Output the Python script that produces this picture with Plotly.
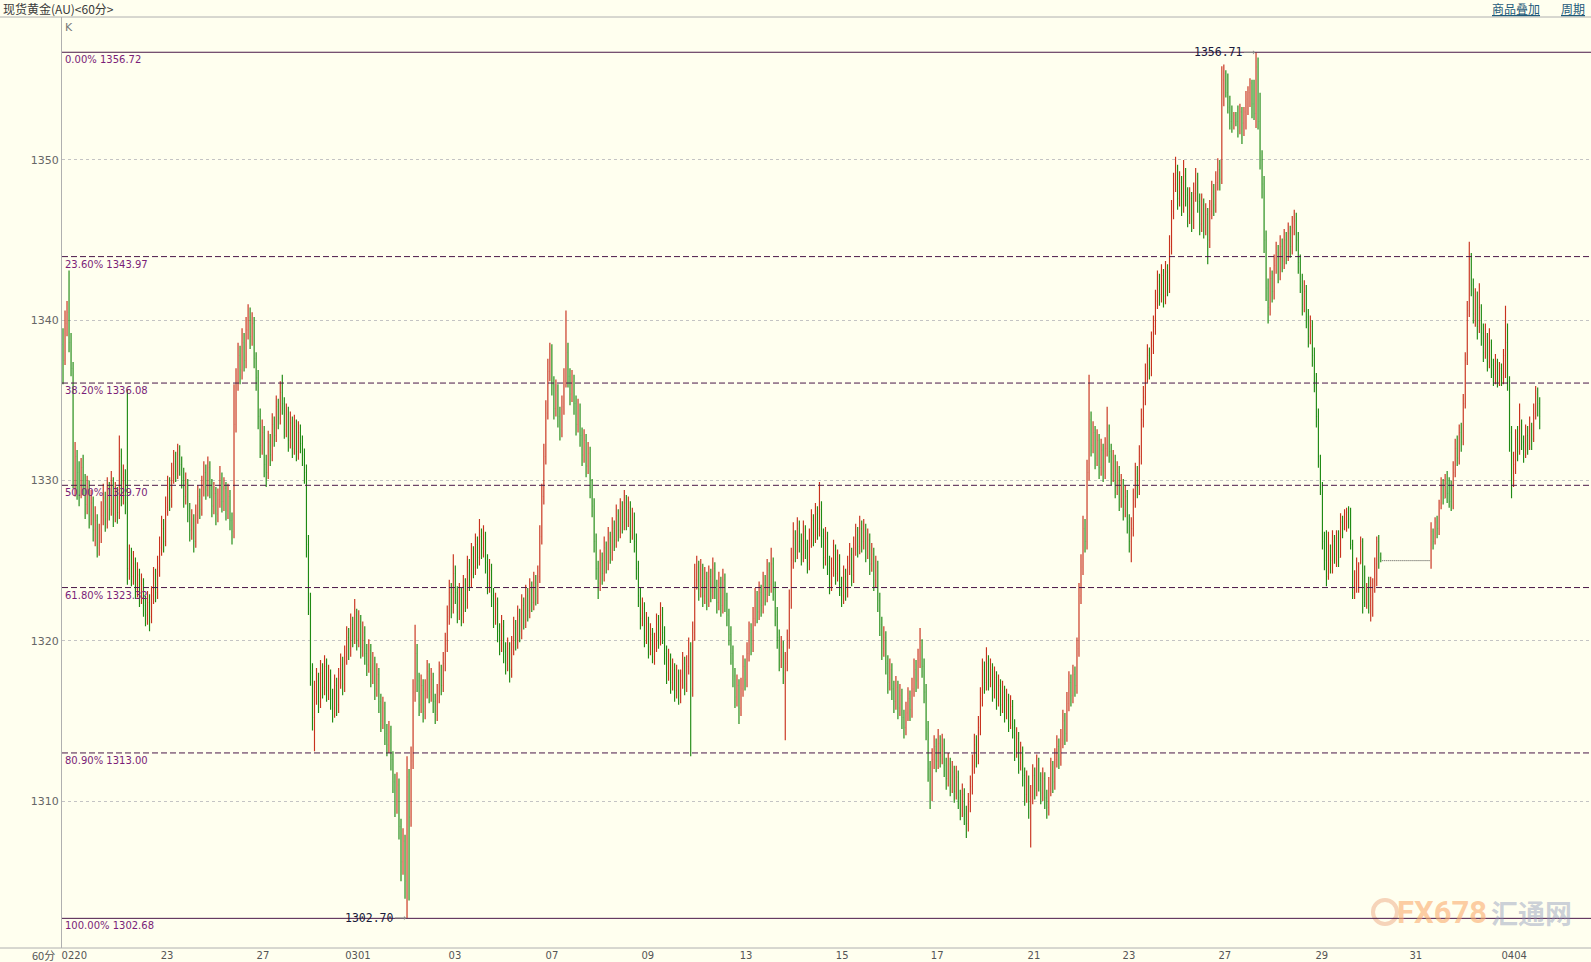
import plotly.graph_objects as go

# ---------------- data (hourly spot gold) ----------------
first_open = 1338.5

closes = [
    1337.5, 1339.8, 1340.5, 1338.6, 1337.0, 1330.0, 1331.5, 1330.5, 1329.2, 1330.8,  # 0
    1330.0, 1328.5, 1329.6, 1327.8, 1328.6, 1326.9, 1327.5, 1325.8, 1326.6, 1327.8,  # 10
    1328.9, 1327.6, 1329.4, 1328.2, 1329.8, 1327.9, 1329.1, 1328.0, 1331.5, 1329.0,  # 20
    1330.2, 1328.6, 1324.5, 1325.3, 1324.0, 1324.8, 1323.2, 1324.1, 1322.8, 1323.5,  # 30
    1322.2, 1321.6, 1322.4, 1321.5, 1322.8, 1323.9, 1323.0, 1324.6, 1325.8, 1327.0,  # 40
    1326.2, 1328.3, 1329.5, 1328.8, 1330.4, 1331.2, 1330.6, 1331.6, 1331.0, 1330.2,  # 50
    1329.0, 1329.8, 1328.1, 1326.9, 1327.6, 1326.2, 1327.8, 1329.0, 1328.2, 1329.6,  # 60
    1330.5, 1329.4, 1330.8, 1329.6, 1328.4, 1329.2, 1327.9, 1328.8, 1330.1, 1328.7,  # 70
    1329.5, 1328.1, 1329.0, 1327.5, 1326.8, 1333.5, 1336.2, 1337.8, 1336.9, 1338.6,  # 80
    1337.5, 1339.4, 1340.2, 1339.0, 1339.8, 1337.6, 1336.4, 1334.0, 1332.2, 1333.0,  # 90
    1331.0, 1330.5, 1332.4, 1331.6, 1333.5, 1332.8, 1334.6, 1333.9, 1335.5, 1334.8,  # 100
    1333.2, 1334.1, 1332.5, 1333.6, 1332.0, 1333.4, 1331.8, 1333.0, 1332.3, 1331.6,  # 110
    1330.5, 1326.0, 1322.5, 1318.0, 1315.2, 1316.8, 1317.5, 1316.2, 1318.0, 1317.1,  # 120
    1318.4, 1316.9, 1317.8, 1316.4, 1315.8, 1317.2, 1316.0, 1317.6, 1318.5, 1317.3,  # 130
    1319.0, 1320.2, 1319.5, 1321.0, 1320.3, 1321.6, 1320.1, 1321.2, 1319.6, 1320.5,  # 140
    1319.2, 1318.5, 1319.4, 1317.8, 1318.6, 1317.0, 1317.9, 1316.2, 1315.0, 1315.8,  # 150
    1314.2, 1313.5, 1314.3, 1312.6, 1311.2, 1309.8, 1311.0, 1308.4, 1306.2, 1307.5,  # 160
    1305.0, 1311.5, 1309.0, 1312.5, 1316.8, 1319.2, 1317.5, 1316.0, 1317.2, 1315.6,  # 170
    1316.9, 1318.1, 1316.8, 1317.6, 1316.2, 1315.4, 1316.6, 1318.0, 1317.2, 1318.6,  # 180
    1319.8, 1321.5, 1323.0, 1322.1, 1324.2, 1323.0, 1321.8, 1322.9, 1321.6, 1323.4,  # 190
    1322.5, 1324.6, 1323.8, 1325.4, 1324.6, 1326.0, 1325.2, 1326.5, 1325.8, 1326.4,  # 200
    1324.9, 1323.6, 1324.4, 1322.8, 1321.5, 1322.3, 1320.6, 1319.8, 1320.9, 1319.3,  # 210
    1318.6, 1319.5, 1318.2, 1319.6, 1320.8, 1320.0, 1321.5, 1320.6, 1322.2, 1321.3,  # 220
    1322.8, 1321.9, 1323.2, 1322.4, 1323.6, 1322.8, 1324.0, 1326.5, 1329.0, 1331.5,  # 230
    1334.2, 1336.8, 1338.2, 1336.0, 1334.5, 1335.6, 1334.0, 1333.2, 1334.6, 1336.2,  # 240
    1338.0, 1336.5, 1335.4, 1336.2, 1334.8, 1333.5, 1334.4, 1332.8, 1331.6, 1332.5,  # 250
    1330.9, 1331.7, 1329.6, 1328.4, 1326.2, 1324.5, 1323.6, 1325.0, 1324.2, 1325.8,  # 260
    1324.9, 1326.4, 1325.5, 1327.0, 1326.3, 1327.8, 1326.9, 1328.2, 1327.4, 1328.6,  # 270
    1327.6, 1328.3, 1326.8, 1327.6, 1326.2, 1324.5, 1322.8, 1321.4, 1322.0, 1320.3,  # 280
    1321.1, 1319.6, 1320.4, 1319.0, 1319.8, 1321.0, 1320.2, 1321.6, 1320.5, 1319.2,  # 290
    1318.0, 1318.8, 1317.4, 1318.2, 1316.9, 1317.8, 1316.6, 1317.5, 1318.6, 1317.3,  # 300
    1318.4, 1319.5, 1317.0, 1320.5, 1323.8, 1324.6, 1323.2, 1324.4, 1322.8, 1323.9,  # 310
    1322.6, 1324.0, 1323.1, 1324.5, 1323.3, 1322.4, 1323.6, 1322.2, 1323.8, 1322.5,  # 320
    1321.6, 1320.4, 1319.2, 1317.8, 1316.5, 1317.2, 1315.8, 1317.0, 1318.4, 1317.6,  # 330
    1319.2, 1320.5, 1319.8, 1321.4, 1322.6, 1321.8, 1323.0, 1322.2, 1323.6, 1322.9,  # 340
    1324.4, 1323.5, 1324.8, 1323.2, 1321.6, 1320.2, 1318.8, 1319.6, 1318.0, 1318.6,  # 350
    1320.0, 1322.5, 1325.0, 1326.4, 1325.6, 1327.0, 1326.2, 1325.4, 1326.8, 1325.8,  # 360
    1324.9, 1326.3, 1327.5, 1326.6, 1327.9, 1327.0, 1328.2, 1326.5, 1325.2, 1326.4,  # 370
    1324.8, 1323.6, 1324.5, 1325.6, 1324.2, 1325.0, 1323.5, 1322.8, 1324.0, 1323.2,  # 380
    1324.6, 1325.4, 1324.1, 1325.8, 1326.6, 1325.9, 1327.0, 1326.2, 1326.9, 1325.6,  # 390
    1326.3, 1324.8, 1325.4, 1323.8, 1324.6, 1322.5, 1321.0, 1319.5, 1320.2, 1318.6,  # 400
    1317.4, 1318.2, 1317.0, 1316.2, 1317.1, 1315.8, 1316.6, 1315.2, 1314.6, 1315.5,  # 410
    1316.4, 1315.7, 1317.0, 1318.2, 1317.5, 1318.8, 1319.6, 1318.4, 1316.8, 1314.5,  # 420
    1312.0, 1310.5, 1312.6, 1313.4, 1312.5, 1313.6, 1312.8, 1313.5, 1312.2, 1311.4,  # 430
    1312.3, 1311.0, 1311.8, 1310.6, 1311.5, 1310.2, 1309.5, 1310.4, 1309.2, 1308.6,  # 440
    1309.8, 1310.9, 1312.2, 1313.5, 1312.8, 1314.6, 1316.4, 1318.2, 1317.4, 1318.6,  # 450
    1317.6, 1318.2, 1316.9, 1317.7, 1316.4, 1317.2, 1316.0, 1316.8, 1315.6, 1316.3,  # 460
    1315.0, 1315.9, 1314.6, 1313.2, 1313.9, 1312.4, 1313.0, 1311.6, 1310.4, 1311.2,  # 470
    1309.6, 1310.3, 1311.6, 1310.8, 1312.2, 1311.3, 1310.5, 1311.4, 1310.2, 1309.6,  # 480
    1310.8, 1312.0, 1311.2, 1312.6, 1313.4, 1312.7, 1313.8, 1315.0, 1314.2, 1316.1,  # 490
    1317.4, 1316.6, 1317.9, 1317.2, 1319.5, 1322.8, 1324.6, 1327.0, 1326.2, 1330.5,  # 500
    1333.8, 1332.2, 1333.0, 1331.4, 1332.5, 1330.8, 1331.9, 1330.6, 1332.0, 1333.1,  # 510
    1331.8, 1330.4, 1331.2, 1329.6, 1330.5, 1328.8, 1329.7, 1328.2, 1329.0, 1327.4,  # 520
    1326.2, 1327.0, 1328.8, 1330.4, 1329.6, 1331.5, 1333.8, 1335.2, 1336.6, 1337.8,  # 530
    1337.0, 1338.4, 1339.6, 1341.2, 1342.4, 1341.6, 1342.8, 1341.5, 1343.0, 1342.2,  # 540
    1344.6, 1346.8, 1348.5, 1349.2, 1347.6, 1348.6, 1347.2, 1349.0, 1347.8, 1346.5,  # 550
    1347.6, 1346.2, 1347.9, 1348.8, 1347.4, 1346.0, 1347.2, 1345.8, 1346.6, 1345.0,  # 560
    1346.8, 1348.0, 1347.2, 1348.6, 1349.4, 1348.8, 1355.0, 1355.4, 1354.2, 1353.3,  # 570
    1352.4, 1352.0, 1352.8, 1352.4, 1351.8, 1353.0, 1352.3, 1353.0, 1353.8, 1354.2,  # 580
    1354.8, 1353.5, 1352.9, 1355.8, 1352.4, 1350.0, 1348.5, 1345.0, 1342.0, 1340.8,  # 590
    1342.6, 1341.8, 1343.4, 1344.2, 1343.0, 1344.6, 1343.7, 1345.0, 1344.2, 1345.4,  # 600
    1344.6, 1345.8, 1346.2, 1345.0, 1343.6, 1342.4, 1341.0, 1341.8, 1340.2, 1339.0,  # 610
    1339.6, 1337.8, 1336.2, 1334.0, 1331.5, 1329.6, 1326.2, 1325.0, 1324.0, 1325.6,  # 620
    1325.0, 1326.2, 1325.4, 1326.4, 1325.2, 1327.4, 1327.0, 1327.9, 1328.0, 1327.6,  # 630
    1326.0, 1323.0, 1323.6, 1324.6, 1324.8, 1326.2, 1322.4, 1322.3, 1322.9, 1322.2,  # 640
    1322.8, 1323.4, 1324.8, 1326.2, 1325.2, 1325.0, 1325.0, 1325.0, 1325.0, 1325.0,  # 650
    1325.0, 1325.0, 1325.0, 1325.0, 1325.0, 1325.0, 1325.0, 1325.0, 1325.0, 1325.0,  # 660
    1325.0, 1325.0, 1325.0, 1325.0, 1325.0, 1325.0, 1325.0, 1325.0, 1325.0, 1325.0,  # 670
    1326.8, 1326.2, 1327.4, 1327.0, 1328.6, 1329.8, 1328.9, 1329.8, 1329.2, 1328.7,  # 680
    1328.4, 1330.5, 1332.0, 1331.4, 1333.0, 1332.4, 1334.8, 1337.5, 1340.6, 1343.8,  # 690
    1342.2, 1340.4, 1341.5, 1339.6, 1340.8, 1339.2, 1338.0, 1339.0, 1337.4, 1338.6,  # 700
    1337.2, 1336.6, 1337.4, 1336.2, 1337.0, 1336.4, 1337.8, 1338.6, 1336.2, 1333.0,  # 710
    1329.8, 1331.0, 1332.6, 1331.8, 1333.4, 1332.4, 1331.6, 1332.8, 1332.2, 1333.2,  # 720
    1332.6, 1334.2, 1335.4, 1334.8, 1334.0,                                          # 730
]

highs = [
    1339.5, 1340.6, 1341.2, 1343.1, 1339.2, 1337.4, 1332.4, 1331.9, 1331.2, 1331.4,  # 0
    1331.6, 1330.4, 1330.3, 1330.0, 1329.4, 1329.0, 1328.4, 1327.9, 1327.3, 1328.7,  # 10
    1329.8, 1329.3, 1330.2, 1329.9, 1330.6, 1330.2, 1329.9, 1329.6, 1332.8, 1332.0,  # 20
    1331.0, 1330.7, 1335.7, 1326.0, 1325.8, 1325.6, 1325.2, 1324.9, 1324.5, 1324.2,  # 30
    1323.9, 1322.8, 1323.1, 1322.9, 1323.4, 1324.6, 1324.5, 1325.3, 1326.5, 1327.8,  # 40
    1327.6, 1329.0, 1330.3, 1330.2, 1331.1, 1331.9, 1331.8, 1332.3, 1332.2, 1331.5,  # 50
    1330.8, 1330.5, 1330.1, 1328.6, 1328.2, 1327.9, 1328.5, 1329.7, 1329.5, 1330.3,  # 60
    1331.2, 1331.0, 1331.5, 1331.2, 1330.1, 1329.9, 1329.6, 1329.5, 1330.9, 1330.5,  # 70
    1330.2, 1329.9, 1329.8, 1329.4, 1328.0, 1336.0, 1337.0, 1338.6, 1338.4, 1339.5,  # 80
    1339.2, 1340.2, 1341.0, 1340.8, 1340.5, 1340.2, 1338.0, 1336.9, 1334.5, 1333.8,  # 90
    1333.4, 1331.6, 1333.1, 1332.9, 1334.2, 1334.0, 1335.3, 1335.1, 1336.2, 1336.6,  # 100
    1335.2, 1334.8, 1334.6, 1334.3, 1334.0, 1334.1, 1333.8, 1333.7, 1333.5, 1332.8,  # 110
    1332.0, 1331.0, 1326.6, 1323.0, 1318.6, 1317.5, 1318.3, 1318.0, 1318.8, 1318.6,  # 120
    1319.1, 1318.9, 1318.5, 1318.2, 1317.0, 1317.9, 1317.7, 1318.3, 1319.2, 1319.0,  # 130
    1319.7, 1320.9, 1320.8, 1321.7, 1321.5, 1322.6, 1322.0, 1321.9, 1321.6, 1321.2,  # 140
    1320.9, 1319.8, 1320.1, 1319.8, 1319.3, 1319.0, 1318.6, 1318.3, 1316.7, 1316.5,  # 150
    1316.2, 1314.8, 1315.0, 1314.7, 1313.1, 1311.7, 1311.8, 1311.4, 1308.9, 1308.3,  # 160
    1307.9, 1312.8, 1312.0, 1313.4, 1317.6, 1321.0, 1319.8, 1318.0, 1317.9, 1317.6,  # 170
    1317.6, 1318.8, 1318.6, 1318.3, 1318.0, 1316.7, 1317.3, 1318.7, 1318.5, 1319.3,  # 180
    1320.5, 1322.2, 1323.8, 1323.6, 1325.4, 1324.7, 1323.4, 1323.6, 1323.3, 1324.1,  # 190
    1323.9, 1325.3, 1325.1, 1326.1, 1325.9, 1326.7, 1326.5, 1327.6, 1327.0, 1327.2,  # 200
    1326.8, 1325.4, 1325.1, 1324.8, 1323.3, 1323.0, 1322.7, 1321.1, 1321.6, 1321.3,  # 210
    1319.9, 1320.2, 1319.9, 1320.3, 1321.5, 1321.3, 1322.2, 1322.0, 1322.9, 1322.7,  # 220
    1323.5, 1323.3, 1323.9, 1323.7, 1324.3, 1324.1, 1324.7, 1327.2, 1329.8, 1332.3,  # 230
    1335.0, 1337.6, 1338.6, 1338.5, 1336.5, 1336.3, 1336.0, 1334.6, 1335.3, 1337.0,  # 240
    1340.6, 1338.6, 1337.0, 1336.9, 1336.6, 1335.3, 1335.1, 1334.8, 1333.3, 1333.2,  # 250
    1332.9, 1332.4, 1332.1, 1330.1, 1328.9, 1326.7, 1325.0, 1325.7, 1325.5, 1326.5,  # 260
    1326.2, 1327.1, 1326.8, 1327.7, 1327.5, 1328.5, 1328.2, 1328.9, 1328.7, 1329.4,  # 270
    1329.1, 1329.0, 1328.7, 1328.3, 1328.0, 1326.7, 1325.0, 1323.3, 1322.7, 1322.4,  # 280
    1321.8, 1321.5, 1321.1, 1320.8, 1320.5, 1321.7, 1321.6, 1322.4, 1322.1, 1320.9,  # 290
    1319.7, 1319.5, 1319.2, 1318.9, 1318.6, 1318.5, 1318.2, 1318.2, 1319.3, 1319.0,  # 300
    1319.1, 1320.2, 1319.9, 1321.2, 1324.8, 1325.3, 1325.0, 1325.1, 1324.8, 1324.6,  # 310
    1324.3, 1324.7, 1324.5, 1325.2, 1324.9, 1323.8, 1324.3, 1324.0, 1324.5, 1324.2,  # 320
    1323.0, 1322.0, 1320.9, 1319.7, 1318.3, 1317.9, 1317.6, 1317.7, 1319.1, 1318.9,  # 330
    1319.9, 1321.2, 1321.1, 1322.1, 1323.3, 1323.1, 1323.7, 1323.5, 1324.3, 1324.1,  # 340
    1325.1, 1324.9, 1325.8, 1325.2, 1323.7, 1322.1, 1320.7, 1320.3, 1320.0, 1319.3,  # 350
    1320.7, 1323.2, 1325.8, 1327.4, 1326.9, 1327.7, 1327.5, 1326.7, 1327.5, 1327.2,  # 360
    1326.3, 1327.0, 1328.2, 1327.9, 1328.6, 1328.4, 1329.9, 1328.7, 1327.0, 1327.1,  # 370
    1326.8, 1325.3, 1325.2, 1326.3, 1326.0, 1325.7, 1325.4, 1324.0, 1324.7, 1324.5,  # 380
    1325.3, 1326.1, 1325.8, 1326.5, 1327.3, 1327.1, 1327.8, 1327.5, 1327.6, 1327.3,  # 390
    1327.0, 1326.7, 1326.1, 1325.8, 1325.3, 1325.0, 1323.0, 1321.5, 1320.9, 1320.6,  # 400
    1319.1, 1318.9, 1318.6, 1317.5, 1317.8, 1317.5, 1317.3, 1317.0, 1315.7, 1316.2,  # 410
    1317.1, 1316.9, 1317.7, 1318.9, 1318.8, 1319.5, 1320.8, 1320.1, 1318.9, 1317.3,  # 420
    1315.0, 1312.5, 1313.3, 1314.1, 1313.9, 1314.5, 1314.1, 1314.2, 1313.9, 1312.7,  # 430
    1313.0, 1312.7, 1312.5, 1312.2, 1312.2, 1311.9, 1310.7, 1311.1, 1310.8, 1309.7,  # 440
    1310.5, 1311.6, 1312.9, 1314.2, 1314.1, 1315.3, 1317.1, 1318.9, 1318.7, 1319.6,  # 450
    1319.1, 1318.9, 1318.6, 1318.4, 1318.1, 1317.9, 1317.6, 1317.5, 1317.2, 1317.0,  # 460
    1316.7, 1316.6, 1316.3, 1315.1, 1314.6, 1314.3, 1313.7, 1313.4, 1312.1, 1311.9,  # 470
    1311.6, 1311.0, 1312.3, 1312.1, 1312.9, 1312.7, 1311.8, 1312.1, 1311.8, 1310.7,  # 480
    1311.5, 1312.7, 1312.5, 1313.3, 1314.1, 1313.9, 1314.5, 1315.7, 1315.5, 1316.8,  # 490
    1318.1, 1317.9, 1318.5, 1318.4, 1320.2, 1323.6, 1325.4, 1327.8, 1327.6, 1331.3,  # 500
    1336.6, 1334.3, 1333.7, 1333.4, 1333.2, 1332.9, 1332.6, 1332.3, 1332.7, 1334.6,  # 510
    1333.5, 1332.3, 1331.9, 1331.6, 1331.2, 1330.9, 1330.4, 1330.1, 1329.7, 1329.4,  # 520
    1327.9, 1327.7, 1329.5, 1331.1, 1330.9, 1332.2, 1334.5, 1335.9, 1337.3, 1338.5,  # 530
    1338.3, 1339.3, 1340.3, 1341.9, 1343.1, 1342.9, 1343.5, 1343.2, 1343.7, 1343.5,  # 540
    1345.3, 1347.5, 1349.2, 1350.2, 1349.7, 1349.3, 1349.0, 1350.0, 1349.5, 1348.3,  # 550
    1348.3, 1348.0, 1348.6, 1349.5, 1349.2, 1347.9, 1347.9, 1347.6, 1347.3, 1347.0,  # 560
    1347.5, 1348.7, 1348.5, 1349.3, 1350.1, 1350.0, 1355.85, 1355.95, 1355.6, 1355.4,  # 570
    1354.0, 1353.4, 1353.0, 1353.0, 1353.4, 1353.5, 1353.3, 1353.3, 1354.3, 1354.6,  # 580
    1355.1, 1355.0, 1355.0, 1356.71, 1356.4, 1354.2, 1350.6, 1349.0, 1345.6, 1342.6,  # 590
    1343.3, 1343.1, 1344.1, 1344.9, 1344.7, 1345.3, 1345.1, 1345.7, 1345.5, 1346.1,  # 600
    1345.9, 1346.5, 1346.9, 1346.7, 1345.5, 1344.1, 1342.9, 1342.5, 1342.2, 1340.7,  # 610
    1340.3, 1340.0, 1338.3, 1336.7, 1334.5, 1331.6, 1329.9, 1326.8, 1326.9, 1326.8,  # 620
    1326.0, 1326.9, 1326.6, 1326.9, 1326.9, 1327.95, 1327.8, 1328.2, 1328.3, 1328.4,  # 630
    1328.3, 1326.3, 1324.4, 1325.2, 1324.9, 1326.5, 1326.4, 1324.7, 1323.6, 1324.0,  # 640
    1324.0, 1323.9, 1325.2, 1326.5, 1326.6, 1325.5, 1325.0, 1325.0, 1325.0, 1325.0,  # 650
    1325.0, 1325.0, 1325.0, 1325.0, 1325.0, 1325.0, 1325.0, 1325.0, 1325.0, 1325.0,  # 660
    1325.0, 1325.0, 1325.0, 1325.0, 1325.0, 1325.0, 1325.0, 1325.0, 1325.0, 1325.0,  # 670
    1327.4, 1327.0, 1327.7, 1327.8, 1328.8, 1330.2, 1330.1, 1330.4, 1330.6, 1330.2,  # 680
    1330.0, 1331.2, 1332.6, 1332.8, 1333.5, 1333.6, 1335.4, 1338.0, 1341.2, 1344.9,  # 690
    1344.2, 1342.6, 1342.0, 1341.8, 1342.3, 1341.0, 1339.8, 1339.8, 1339.2, 1339.5,  # 700
    1338.8, 1337.6, 1337.9, 1337.6, 1337.4, 1337.3, 1338.2, 1340.9, 1339.8, 1336.5,  # 710
    1333.4, 1331.8, 1333.2, 1333.4, 1334.8, 1333.8, 1332.8, 1333.5, 1333.4, 1334.0,  # 720
    1333.6, 1334.8, 1335.9, 1335.8, 1335.2,                                          # 730
]

lows = [
    1336.0, 1337.2, 1339.0, 1338.0, 1336.5, 1329.5, 1329.0, 1328.8, 1328.4, 1328.9,  # 0
    1329.1, 1327.6, 1327.9, 1327.0, 1327.2, 1326.2, 1325.9, 1325.2, 1325.3, 1326.1,  # 10
    1327.2, 1326.8, 1327.0, 1327.5, 1327.8, 1327.1, 1327.4, 1327.3, 1327.6, 1328.4,  # 20
    1328.5, 1327.9, 1323.5, 1323.8, 1323.4, 1323.5, 1322.6, 1322.7, 1322.1, 1322.3,  # 30
    1321.5, 1320.9, 1321.0, 1320.6, 1321.1, 1322.3, 1322.4, 1322.6, 1324.0, 1325.3,  # 40
    1325.5, 1325.9, 1327.8, 1328.1, 1328.3, 1329.8, 1329.9, 1330.1, 1330.3, 1329.5,  # 50
    1328.3, 1328.5, 1327.4, 1326.2, 1326.3, 1325.5, 1325.8, 1327.3, 1327.6, 1327.8,  # 60
    1329.0, 1328.8, 1329.0, 1328.9, 1327.7, 1327.9, 1327.2, 1327.4, 1328.3, 1328.0,  # 70
    1328.1, 1327.5, 1327.6, 1326.9, 1326.0, 1326.4, 1333.0, 1335.6, 1336.0, 1336.3,  # 80
    1336.8, 1337.0, 1338.8, 1338.2, 1338.4, 1337.0, 1335.6, 1333.2, 1331.4, 1331.6,  # 90
    1330.2, 1329.6, 1330.1, 1330.9, 1331.2, 1332.1, 1332.4, 1333.2, 1333.5, 1334.1,  # 100
    1332.6, 1332.7, 1331.8, 1332.0, 1331.4, 1331.6, 1331.2, 1331.3, 1331.7, 1330.9,  # 110
    1329.8, 1325.2, 1321.6, 1317.2, 1314.4, 1313.1, 1316.0, 1315.5, 1315.8, 1316.4,  # 120
    1316.6, 1316.2, 1316.3, 1315.7, 1314.9, 1315.2, 1315.3, 1315.5, 1317.0, 1316.6,  # 130
    1316.8, 1318.5, 1318.8, 1319.0, 1319.6, 1319.8, 1319.4, 1319.6, 1318.9, 1319.0,  # 140
    1318.5, 1317.8, 1318.0, 1317.1, 1317.3, 1316.3, 1316.5, 1315.5, 1314.3, 1314.5,  # 150
    1313.5, 1312.8, 1313.0, 1311.9, 1310.5, 1309.0, 1309.2, 1307.6, 1305.0, 1305.4,  # 160
    1303.9, 1302.7, 1303.8, 1308.4, 1312.0, 1316.2, 1316.8, 1315.3, 1315.5, 1314.9,  # 170
    1315.1, 1316.4, 1316.1, 1316.2, 1315.5, 1314.8, 1315.0, 1316.1, 1316.6, 1316.8,  # 180
    1318.1, 1319.3, 1321.0, 1321.4, 1321.7, 1322.3, 1321.1, 1321.3, 1320.9, 1321.1,  # 190
    1321.8, 1322.0, 1323.1, 1323.3, 1323.9, 1324.1, 1324.5, 1324.7, 1325.1, 1325.2,  # 200
    1324.2, 1322.9, 1323.0, 1322.1, 1320.8, 1321.0, 1319.9, 1319.1, 1319.3, 1318.6,  # 210
    1317.9, 1318.1, 1317.4, 1317.7, 1319.1, 1319.4, 1319.5, 1319.9, 1320.1, 1320.7,  # 220
    1320.8, 1321.2, 1321.4, 1321.8, 1321.9, 1322.2, 1322.3, 1323.6, 1326.0, 1328.5,  # 230
    1331.0, 1333.8, 1336.2, 1335.3, 1333.8, 1334.0, 1333.3, 1332.5, 1332.7, 1334.1,  # 240
    1335.8, 1335.8, 1334.7, 1334.9, 1334.1, 1332.8, 1333.0, 1332.1, 1330.9, 1331.1,  # 250
    1330.2, 1330.4, 1328.9, 1327.7, 1325.5, 1323.8, 1322.6, 1323.1, 1323.5, 1323.7,  # 260
    1324.2, 1324.4, 1324.8, 1325.0, 1325.6, 1325.8, 1326.2, 1326.4, 1326.7, 1326.9,  # 270
    1326.9, 1327.1, 1326.1, 1326.3, 1325.5, 1323.8, 1322.1, 1320.7, 1320.9, 1319.6,  # 280
    1319.8, 1318.9, 1319.1, 1318.6, 1318.5, 1319.3, 1319.5, 1319.7, 1319.8, 1318.5,  # 290
    1317.3, 1317.5, 1316.7, 1316.9, 1316.2, 1316.4, 1316.0, 1316.1, 1317.0, 1316.6,  # 300
    1316.8, 1317.9, 1312.8, 1316.5, 1320.0, 1323.2, 1322.5, 1322.7, 1322.1, 1322.3,  # 310
    1321.9, 1322.1, 1322.4, 1322.6, 1322.6, 1321.7, 1321.9, 1321.5, 1321.7, 1321.8,  # 320
    1320.9, 1319.7, 1318.5, 1317.1, 1315.8, 1315.9, 1314.8, 1315.3, 1316.5, 1316.9,  # 330
    1317.1, 1318.7, 1319.1, 1319.3, 1320.9, 1321.1, 1321.3, 1321.5, 1321.7, 1322.2,  # 340
    1322.4, 1322.8, 1323.0, 1322.5, 1320.9, 1319.5, 1318.1, 1318.3, 1317.3, 1313.8,  # 350
    1318.1, 1319.5, 1322.0, 1324.5, 1324.9, 1325.1, 1325.5, 1324.7, 1324.9, 1325.1,  # 360
    1324.2, 1324.4, 1325.8, 1325.9, 1326.1, 1326.3, 1326.5, 1325.8, 1324.5, 1324.7,  # 370
    1324.1, 1322.9, 1323.1, 1324.0, 1323.5, 1323.7, 1322.8, 1322.1, 1322.3, 1322.5,  # 380
    1322.7, 1324.1, 1323.4, 1323.6, 1325.3, 1325.2, 1325.4, 1325.5, 1325.7, 1324.9,  # 390
    1325.1, 1324.1, 1324.3, 1323.1, 1323.3, 1321.8, 1320.3, 1318.8, 1319.0, 1317.9,  # 400
    1316.7, 1316.9, 1316.3, 1315.5, 1315.7, 1315.1, 1315.3, 1314.5, 1313.9, 1314.1,  # 410
    1315.0, 1315.0, 1315.2, 1316.5, 1316.8, 1317.0, 1318.3, 1317.7, 1316.1, 1313.8,  # 420
    1311.2, 1309.5, 1310.0, 1312.0, 1311.8, 1312.0, 1312.1, 1312.3, 1311.5, 1310.7,  # 430
    1310.9, 1310.3, 1310.5, 1309.9, 1310.1, 1309.5, 1308.8, 1309.0, 1308.5, 1307.7,  # 440
    1308.1, 1309.3, 1310.4, 1311.7, 1312.1, 1312.3, 1314.1, 1315.9, 1316.7, 1316.9,  # 450
    1316.9, 1317.1, 1316.2, 1316.4, 1315.7, 1315.9, 1315.3, 1315.5, 1314.9, 1315.1,  # 460
    1314.3, 1314.5, 1313.9, 1312.5, 1312.7, 1311.7, 1311.9, 1310.9, 1309.7, 1309.9,  # 470
    1308.9, 1307.1, 1309.8, 1310.1, 1310.3, 1310.6, 1309.8, 1310.0, 1309.5, 1308.9,  # 480
    1309.1, 1310.3, 1310.5, 1310.7, 1312.1, 1312.0, 1312.2, 1313.3, 1313.5, 1313.7,  # 490
    1315.6, 1315.9, 1316.1, 1316.5, 1316.7, 1319.0, 1322.3, 1324.1, 1325.5, 1325.7,  # 500
    1330.0, 1331.5, 1331.7, 1330.7, 1330.9, 1330.1, 1330.3, 1329.9, 1330.1, 1331.5,  # 510
    1331.1, 1329.7, 1329.9, 1328.9, 1329.1, 1328.1, 1328.3, 1327.5, 1327.7, 1326.7,  # 520
    1325.5, 1324.9, 1326.5, 1328.3, 1328.9, 1329.1, 1331.0, 1333.3, 1334.7, 1336.1,  # 530
    1336.3, 1336.5, 1337.9, 1339.1, 1340.7, 1340.9, 1341.1, 1340.8, 1341.0, 1341.5,  # 540
    1341.7, 1344.1, 1346.3, 1348.0, 1346.9, 1347.1, 1346.5, 1346.7, 1347.1, 1345.8,  # 550
    1346.0, 1345.5, 1345.7, 1347.4, 1346.7, 1345.3, 1345.5, 1345.1, 1345.3, 1343.5,  # 560
    1344.5, 1346.3, 1346.5, 1346.7, 1348.1, 1348.1, 1348.5, 1353.35, 1353.9, 1352.9,  # 570
    1351.9, 1351.7, 1351.9, 1352.1, 1351.4, 1351.6, 1351.0, 1351.5, 1351.9, 1352.8,  # 580
    1353.3, 1352.6, 1352.5, 1352.0, 1351.9, 1349.4, 1347.6, 1344.2, 1341.2, 1339.8,  # 590
    1340.3, 1341.1, 1341.3, 1342.9, 1342.3, 1342.5, 1343.0, 1343.2, 1343.5, 1343.7,  # 600
    1343.9, 1344.1, 1345.3, 1344.3, 1342.9, 1341.7, 1340.3, 1340.5, 1339.5, 1338.3,  # 610
    1338.5, 1337.1, 1335.5, 1333.3, 1330.8, 1329.1, 1325.7, 1324.4, 1323.4, 1323.8,  # 620
    1324.2, 1324.2, 1324.8, 1324.6, 1324.6, 1325.2, 1326.4, 1326.9, 1326.8, 1327.0,  # 630
    1325.7, 1322.6, 1322.6, 1323.0, 1323.0, 1324.85, 1321.7, 1322.1, 1322.0, 1321.7,  # 640
    1321.2, 1321.5, 1323.0, 1323.4, 1324.5, 1324.9, 1325.0, 1325.0, 1325.0, 1325.0,  # 650
    1325.0, 1325.0, 1325.0, 1325.0, 1325.0, 1325.0, 1325.0, 1325.0, 1325.0, 1325.0,  # 660
    1325.0, 1325.0, 1325.0, 1325.0, 1325.0, 1325.0, 1325.0, 1325.0, 1325.0, 1325.0,  # 670
    1324.5, 1325.7, 1326.0, 1326.4, 1326.6, 1328.2, 1328.5, 1328.9, 1328.6, 1328.3,  # 680
    1328.1, 1328.2, 1330.2, 1330.9, 1331.0, 1331.8, 1332.2, 1334.5, 1337.2, 1340.2,  # 690
    1341.5, 1339.8, 1339.6, 1338.8, 1339.2, 1338.4, 1337.4, 1337.6, 1336.8, 1337.0,  # 700
    1336.4, 1335.9, 1336.0, 1335.8, 1335.9, 1335.9, 1336.0, 1336.4, 1335.6, 1331.8,  # 710
    1328.9, 1329.6, 1330.4, 1331.2, 1331.6, 1331.9, 1331.1, 1331.4, 1331.6, 1331.9,  # 720
    1331.9, 1332.4, 1333.8, 1334.0, 1333.2,                                          # 730
]

tick_pos = [5.6, 51.7, 99.4, 146.6, 194.8, 243.0, 290.7, 339.5, 387.3, 434.5,
            482.6, 529.8, 577.5, 625.7, 672.4, 721.3]
tick_text = ["0220", "23", "27", "0301", "03", "07", "09", "13", "15", "17",
             "21", "23", "27", "29", "31", "0404"]

price_ticks = [1310, 1320, 1330, 1340, 1350]

fib_pct = ["0.00%", "23.60%", "38.20%", "50.00%", "61.80%", "80.90%", "100.00%"]
fib_val = [1356.72, 1343.97, 1336.08, 1329.70, 1323.32, 1313.00, 1302.68]

hi_bar, hi_val = 593, 1356.71
lo_bar, lo_val = 171, 1302.70

# ---------------- build ----------------
assert len(closes) == len(highs) == len(lows), (len(closes), len(highs), len(lows))
n = len(closes)
opens = [first_open] + closes[:-1]
highs = [max(h, o, c) for h, o, c in zip(highs, opens, closes)]
lows = [min(l, o, c) for l, o, c in zip(lows, opens, closes)]
bar_idx = list(range(n))

# split: bars with range vs. flat (no-trade) bars which the terminal draws as dark dots
moving = [i for i in bar_idx if highs[i] != lows[i]]
flat = [i for i in bar_idx if highs[i] == lows[i]]

def pick(seq, ids):
    return [seq[i] for i in ids]

BG = "#FFFFEF"
UP = "#C8321E"
DN = "#1F8A14"
FLAT = "#2A2A2A"
FIB = "#4A1848"
AXIS = "#B0B0B0"

fig = go.Figure()
fig.add_trace(go.Ohlc(
    x=moving, open=pick(opens, moving), high=pick(highs, moving),
    low=pick(lows, moving), close=pick(closes, moving),
    increasing=dict(line=dict(color=UP, width=1.15)),
    decreasing=dict(line=dict(color=DN, width=1.15)),
    tickwidth=0.3, hoverinfo="skip",
))
fig.add_trace(go.Ohlc(
    x=flat, open=pick(opens, flat), high=pick(highs, flat),
    low=pick(lows, flat), close=pick(closes, flat),
    increasing=dict(line=dict(color=FLAT, width=1)),
    decreasing=dict(line=dict(color=FLAT, width=1)),
    tickwidth=0.22, hoverinfo="skip",
))

W, H = 1591, 962
ML, MR, MT, MB = 62, 0, 17, 14
PW, PH = W - ML - MR, H - MT - MB

def px_x(px):
    return (px - ML) / PW

def px_y(py):
    return (H - MB - py) / PH

shapes = []
for pct, val in zip(fib_pct, fib_val):
    solid = pct in ("0.00%", "100.00%")
    shapes.append(dict(type="line", xref="paper", yref="y", x0=0, x1=1, y0=val, y1=val,
                       line=dict(color=FIB, width=1, dash="solid" if solid else "6px,3px"),
                       layer="above"))
# header separator and bottom axis line across the whole width
shapes.append(dict(type="line", xref="paper", yref="paper", x0=px_x(0), x1=1, y0=1, y1=1,
                   line=dict(color=AXIS, width=1)))
shapes.append(dict(type="line", xref="paper", yref="paper", x0=px_x(0), x1=1, y0=0, y1=0,
                   line=dict(color=AXIS, width=1)))
# watermark logo ring
shapes.append(dict(type="circle", xref="paper", yref="paper",
                   x0=px_x(1373), x1=px_x(1397), y0=px_y(924), y1=px_y(900),
                   line=dict(color="rgba(236,160,120,0.45)", width=4), layer="below"))

ann = []
for pct, val in zip(fib_pct, fib_val):
    ann.append(dict(xref="paper", yref="y", x=0, y=val, xanchor="left", yanchor="top",
                    xshift=1, yshift=0, showarrow=False, text=f"{pct} {val:.2f}",
                    font=dict(family="DejaVu Sans", size=10, color="#7A1E78")))

mono = dict(family="DejaVu Sans Mono", size=11.5, color="#1A1A3A")
ann.append(dict(x=hi_bar, y=hi_val, xref="x", yref="y", text=f"{hi_val:.2f}", showarrow=True,
                ax=-38, ay=0, arrowhead=1, arrowsize=0.7, arrowwidth=1, arrowcolor="#8A8A8A",
                standoff=1, font=mono))
ann.append(dict(x=lo_bar, y=lo_val, xref="x", yref="y", text=f"{lo_val:.2f}", showarrow=True,
                ax=-38, ay=0, arrowhead=1, arrowsize=0.7, arrowwidth=1, arrowcolor="#8A8A8A",
                standoff=1, font=mono))

ann.append(dict(xref="paper", yref="paper", x=px_x(1), y=px_y(8), xanchor="left", yanchor="middle",
                showarrow=False, text="现货黄金(AU)&lt;60分&gt;",
                font=dict(family="Noto Sans CJK SC", size=12, color="#3A3A3A")))
ann.append(dict(xref="paper", yref="paper", x=px_x(1516), y=px_y(8), xanchor="center", yanchor="middle",
                showarrow=False, text="<u>商品叠加</u>",
                font=dict(family="Noto Sans CJK SC", size=12, color="#1E5A7A")))
ann.append(dict(xref="paper", yref="paper", x=px_x(1573), y=px_y(8), xanchor="center", yanchor="middle",
                showarrow=False, text="<u>周期</u>",
                font=dict(family="Noto Sans CJK SC", size=12, color="#1E5A7A")))
ann.append(dict(xref="paper", yref="paper", x=px_x(63), y=px_y(27), xanchor="left", yanchor="middle",
                showarrow=False, text="K", font=dict(family="DejaVu Sans", size=11, color="#777777")))
ann.append(dict(xref="paper", yref="paper", x=px_x(57), y=px_y(955), xanchor="right", yanchor="middle",
                showarrow=False, text="60分",
                font=dict(family="Noto Sans CJK SC", size=11, color="#555555")))
ann.append(dict(xref="paper", yref="paper", x=px_x(1442), y=px_y(912), xanchor="center", yanchor="middle",
                showarrow=False, text="<b>FX678</b>",
                font=dict(family="Roboto", size=31, color="rgba(250,172,110,0.6)")))
ann.append(dict(xref="paper", yref="paper", x=px_x(1531), y=px_y(912), xanchor="center", yanchor="middle",
                showarrow=False, text="<b>汇通网</b>",
                font=dict(family="Noto Sans CJK SC", size=27, color="rgba(140,150,185,0.45)")))

fig.update_layout(
    width=W, height=H,
    margin=dict(l=ML, r=MR, t=MT, b=MB),
    paper_bgcolor=BG, plot_bgcolor=BG,
    showlegend=False,
    shapes=shapes, annotations=ann,
    xaxis=dict(range=[-0.5, 759.5], rangeslider=dict(visible=False),
               tickmode="array", tickvals=tick_pos, ticktext=tick_text,
               showgrid=False, zeroline=False, showline=False, ticks="",
               tickfont=dict(family="DejaVu Sans", size=10, color="#555555"),
               fixedrange=True),
    yaxis=dict(range=[1300.83, 1358.92], tickmode="array", tickvals=price_ticks,
               showgrid=True, gridcolor="#C4C4C4", griddash="dot", gridwidth=1,
               zeroline=False, showline=True, linecolor=AXIS, linewidth=1, ticks="",
               tickfont=dict(family="DejaVu Sans", size=11, color="#666666"),
               fixedrange=True),
)

fig.write_html("out.html", config={"displayModeBar": False},
               post_script="document.body.style.margin='0';")
